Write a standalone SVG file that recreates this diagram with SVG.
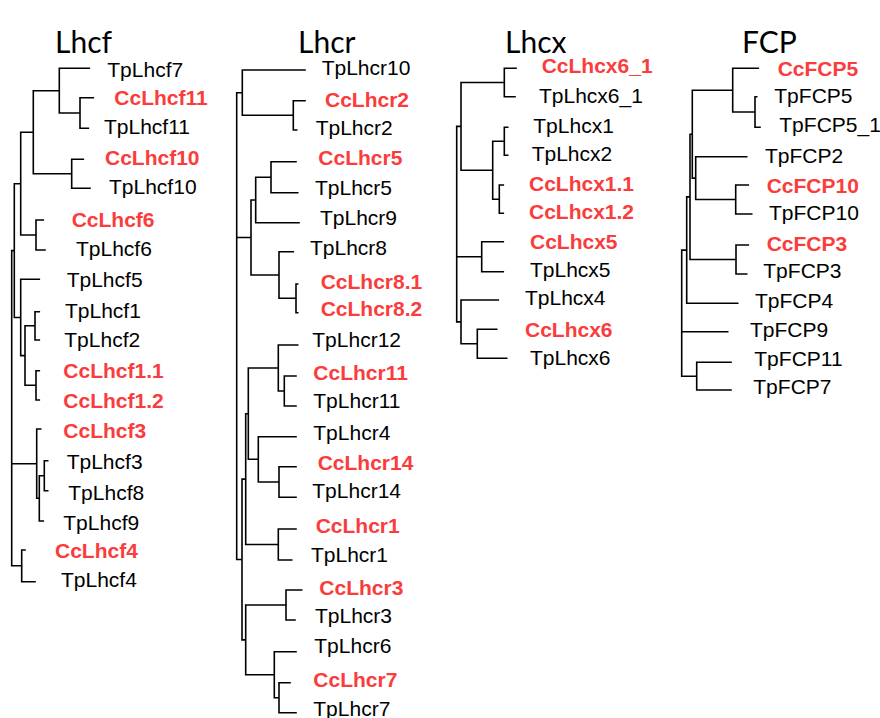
<svg xmlns="http://www.w3.org/2000/svg" width="880" height="718" viewBox="0 0 880 718">
<style>
  .br { fill: none; stroke: #000; stroke-width: 1.6; stroke-linecap: square; }
  .tp { font-family: "Liberation Sans", Arial, sans-serif; font-size: 21px; fill: #000; }
  .cc { font-family: "Liberation Sans", Arial, sans-serif; font-size: 21px; font-weight: bold; fill: #FA3C3C; }
  .ttl { font-family: Lato, "Open Sans", sans-serif; font-size: 30px; fill: #000; }
</style>
<rect width="880" height="718" fill="#fff"/>

<!-- family headings -->
<g id="titles">
  <text class="ttl" x="55" y="53">Lhcf</text>
  <text class="ttl" x="298" y="53">Lhcr</text>
  <text class="ttl" x="505" y="53">Lhcx</text>
  <text class="ttl" x="742" y="53">FCP</text>
</g>

<!-- branches of the four trees -->
<g id="connectors">
  <!-- Lhcf -->
  <path class="br" d="M59.3 68.3 H89.3 M80 97.7 H93.3 M80 128.3 H88.3 M80 97.7 V128.3
    M59.3 113 H80 M59.3 68.3 V113
    M71.7 159.3 H83.3 M71.7 188.3 H90 M71.7 159.3 V188.3
    M33.3 90.7 H59.3 M33.3 173.8 H71.7 M33.3 90.7 V173.8
    M36 220 H43.3 M36 250 H45 M36 220 V250
    M20.7 132.3 H33.3 M20.7 235 H36 M20.7 132.3 V235
    M20.7 279.3 H39.3
    M35 311.7 H39.3 M35 340 H39.3 M35 311.7 V340
    M36 370.7 H39.3 M36 400 H39.3 M36 370.7 V400
    M25 325.8 H35 M25 385.3 H36 M25 325.8 V385.3
    M20.7 355.6 H25 M20.7 279.3 V355.6
    M14.3 183.7 H20.7 M14.3 317.5 H20.7 M14.3 183.7 V317.5
    M36.7 429 H40.7
    M44.3 460.7 H47.7 M44.3 490.7 H47.7 M44.3 460.7 V490.7
    M39.3 475.7 H44.3 M39.3 521 H43.3 M39.3 475.7 V521
    M36.7 498.3 H39.3 M36.7 429 V498.3
    M21.7 550 H25 M21.7 581.7 H35 M21.7 550 V581.7
    M11.7 250.6 H14.3 M11.7 463.7 H36.7 M11.7 565.8 H21.7 M11.7 250.6 V565.8"/>
  <!-- Lhcr -->
  <path class="br" d="M242.3 70 H305 M293.3 100.7 H305 M293.3 130 H296.7 M293.3 100.7 V130
    M242.3 115.3 H293.3 M242.3 70 V115.3
    M271 161.7 H296 M271 192.7 H297.7 M271 161.7 V192.7
    M255.7 177.2 H271 M255.7 222.7 H299 M255.7 177.2 V222.7
    M279 251.7 H293.3 M296 284 H297.7 M296 312.7 H297.7 M296 284 V312.7
    M279 298.3 H296 M279 251.7 V298.3
    M251 200 H255.7 M251 275 H279 M251 200 V275
    M278.3 345 H297.7 M284.3 376 H296 M284.3 406 H296 M284.3 376 V406
    M278.3 391 H284.3 M278.3 345 V391
    M258.3 436.7 H296 M279 466.7 H296 M279 497.3 H296 M279 466.7 V497.3
    M258.3 482 H279 M258.3 436.7 V482
    M248.3 368 H278.3 M248.3 459.3 H258.3 M248.3 368 V459.3
    M278.3 529 H296 M278.3 560 H291.7 M278.3 529 V560
    M245.7 413.7 H248.3 M245.7 544.5 H278.3 M245.7 413.7 V544.5
    M286 590 H301.7 M286 620 H295 M286 590 V620
    M274.3 651.7 H296 M279 682.7 H290 M279 712.7 H296 M279 682.7 V712.7
    M274.3 697.7 H279 M274.3 651.7 V697.7
    M245.7 605 H286 M245.7 674.7 H274.3 M245.7 605 V674.7
    M242 479.1 H245.7 M242 639.9 H245.7 M242 479.1 V639.9
    M236.7 92.7 H242.3 M236.7 237.5 H251 M236.7 559.5 H242 M236.7 92.7 V559.5"/>
  <!-- Lhcx -->
  <path class="br" d="M504.3 68.3 H516 M504.3 96.7 H515 M504.3 68.3 V96.7
    M504.3 127.3 H507.7 M504.3 155.3 H507.7 M504.3 127.3 V155.3
    M499.3 185 H503.3 M499.3 213.3 H503.3 M499.3 185 V213.3
    M492.7 141.3 H504.3 M492.7 199.2 H499.3 M492.7 141.3 V199.2
    M461 82.5 H504.3 M461 170.2 H492.7 M461 82.5 V170.2
    M481.7 241.7 H503.3 M481.7 271.7 H503.3 M481.7 241.7 V271.7
    M461 300 H498.3 M477.3 329.3 H496.7 M477.3 358.3 H506.7 M477.3 329.3 V358.3
    M461 343.8 H477.3 M461 300 V343.8
    M456.7 126.4 H461 M456.7 256.7 H481.7 M456.7 321.9 H461 M456.7 126.4 V321.9"/>
  <!-- FCP -->
  <path class="br" d="M732.7 68.3 H758.3 M755 96.7 H756.7 M755 127.3 H760 M755 96.7 V127.3
    M732.7 112 H755 M732.7 68.3 V112
    M695.7 156.7 H746.7 M735.7 185 H748.3 M735.7 214 H751.7 M735.7 185 V214
    M695.7 199.5 H735.7 M695.7 156.7 V199.5
    M692.3 90.2 H732.7 M692.3 178.1 H695.7 M692.3 90.2 V178.1
    M736 245 H748.3 M736 274 H746.7 M736 245 V274
    M690 134.2 H692.3 M690 259.5 H736 M690 134.2 V259.5
    M686.7 196.9 H690 M686.7 303.3 H737.7 M686.7 196.9 V303.3
    M681.7 331.7 H727.7
    M696.7 362.3 H731 M696.7 390 H731 M696.7 362.3 V390
    M681.7 250.1 H686.7 M681.7 376.2 H696.7 M681.7 250.1 V376.2"/>
</g>

<!-- Lhcf leaves -->
<g id="TpLhcf7"><text class="tp" x="107.3" y="76.7">TpLhcf7</text></g>
<g id="CcLhcf11"><text class="cc" x="114.3" y="105">CcLhcf11</text></g>
<g id="TpLhcf11"><text class="tp" x="104" y="134">TpLhcf11</text></g>
<g id="CcLhcf10"><text class="cc" x="105" y="165">CcLhcf10</text></g>
<g id="TpLhcf10"><text class="tp" x="109" y="194">TpLhcf10</text></g>
<g id="CcLhcf6"><text class="cc" x="71.7" y="226.7">CcLhcf6</text></g>
<g id="TpLhcf6"><text class="tp" x="76" y="255.7">TpLhcf6</text></g>
<g id="TpLhcf5"><text class="tp" x="66.7" y="287">TpLhcf5</text></g>
<g id="TpLhcf1"><text class="tp" x="65" y="317.5">TpLhcf1</text></g>
<g id="TpLhcf2"><text class="tp" x="64.3" y="346.7">TpLhcf2</text></g>
<g id="CcLhcf1.1"><text class="cc" x="63.3" y="377.7">CcLhcf1.1</text></g>
<g id="CcLhcf1.2"><text class="cc" x="63.3" y="408">CcLhcf1.2</text></g>
<g id="CcLhcf3"><text class="cc" x="63.3" y="438.3">CcLhcf3</text></g>
<g id="TpLhcf3"><text class="tp" x="66.7" y="469.3">TpLhcf3</text></g>
<g id="TpLhcf8"><text class="tp" x="68.3" y="500">TpLhcf8</text></g>
<g id="TpLhcf9"><text class="tp" x="63.3" y="530">TpLhcf9</text></g>
<g id="CcLhcf4"><text class="cc" x="55" y="558.3">CcLhcf4</text></g>
<g id="TpLhcf4"><text class="tp" x="61" y="586.7">TpLhcf4</text></g>

<!-- Lhcr leaves -->
<g id="TpLhcr10"><text class="tp" x="321.7" y="75">TpLhcr10</text></g>
<g id="CcLhcr2"><text class="cc" x="325" y="106.7">CcLhcr2</text></g>
<g id="TpLhcr2"><text class="tp" x="315.7" y="135">TpLhcr2</text></g>
<g id="CcLhcr5"><text class="cc" x="318.3" y="165">CcLhcr5</text></g>
<g id="TpLhcr5"><text class="tp" x="315" y="195">TpLhcr5</text></g>
<g id="TpLhcr9"><text class="tp" x="320" y="225">TpLhcr9</text></g>
<g id="TpLhcr8"><text class="tp" x="310" y="255">TpLhcr8</text></g>
<g id="CcLhcr8.1"><text class="cc" x="320.7" y="289">CcLhcr8.1</text></g>
<g id="CcLhcr8.2"><text class="cc" x="320.7" y="316">CcLhcr8.2</text></g>
<g id="TpLhcr12"><text class="tp" x="312.3" y="347.3">TpLhcr12</text></g>
<g id="CcLhcr11"><text class="cc" x="313.3" y="380">CcLhcr11</text></g>
<g id="TpLhcr11"><text class="tp" x="313.3" y="408.3">TpLhcr11</text></g>
<g id="TpLhcr4"><text class="tp" x="313.3" y="440">TpLhcr4</text></g>
<g id="CcLhcr14"><text class="cc" x="317.7" y="470">CcLhcr14</text></g>
<g id="TpLhcr14"><text class="tp" x="312.3" y="498">TpLhcr14</text></g>
<g id="CcLhcr1"><text class="cc" x="315.7" y="533.3">CcLhcr1</text></g>
<g id="TpLhcr1"><text class="tp" x="311" y="561.7">TpLhcr1</text></g>
<g id="CcLhcr3"><text class="cc" x="319.3" y="595">CcLhcr3</text></g>
<g id="TpLhcr3"><text class="tp" x="315" y="623.3">TpLhcr3</text></g>
<g id="TpLhcr6"><text class="tp" x="314.3" y="653.3">TpLhcr6</text></g>
<g id="CcLhcr7"><text class="cc" x="313.3" y="686.7">CcLhcr7</text></g>
<g id="TpLhcr7"><text class="tp" x="313.3" y="716">TpLhcr7</text></g>

<!-- Lhcx leaves -->
<g id="CcLhcx6_1"><text class="cc" x="541.7" y="73">CcLhcx6_1</text></g>
<g id="TpLhcx6_1"><text class="tp" x="539" y="103">TpLhcx6_1</text></g>
<g id="TpLhcx1"><text class="tp" x="533.3" y="132.7">TpLhcx1</text></g>
<g id="TpLhcx2"><text class="tp" x="531.7" y="161">TpLhcx2</text></g>
<g id="CcLhcx1.1"><text class="cc" x="529" y="191">CcLhcx1.1</text></g>
<g id="CcLhcx1.2"><text class="cc" x="529" y="219.3">CcLhcx1.2</text></g>
<g id="CcLhcx5"><text class="cc" x="530" y="249">CcLhcx5</text></g>
<g id="TpLhcx5"><text class="tp" x="530" y="276.7">TpLhcx5</text></g>
<g id="TpLhcx4"><text class="tp" x="525" y="305">TpLhcx4</text></g>
<g id="CcLhcx6"><text class="cc" x="525" y="337.3">CcLhcx6</text></g>
<g id="TpLhcx6"><text class="tp" x="530" y="365">TpLhcx6</text></g>

<!-- FCP leaves -->
<g id="CcFCP5"><text class="cc" x="777.7" y="76">CcFCP5</text></g>
<g id="TpFCP5"><text class="tp" x="774.3" y="102.7">TpFCP5</text></g>
<g id="TpFCP5_1"><text class="tp" x="779.3" y="131.7">TpFCP5_1</text></g>
<g id="TpFCP2"><text class="tp" x="765" y="163.3">TpFCP2</text></g>
<g id="CcFCP10"><text class="cc" x="766.7" y="192.7">CcFCP10</text></g>
<g id="TpFCP10"><text class="tp" x="769" y="220">TpFCP10</text></g>
<g id="CcFCP3"><text class="cc" x="766.7" y="251">CcFCP3</text></g>
<g id="TpFCP3"><text class="tp" x="763.3" y="277.7">TpFCP3</text></g>
<g id="TpFCP4"><text class="tp" x="755" y="308.3">TpFCP4</text></g>
<g id="TpFCP9"><text class="tp" x="750" y="336.7">TpFCP9</text></g>
<g id="TpFCP11"><text class="tp" x="754.3" y="366">TpFCP11</text></g>
<g id="TpFCP7"><text class="tp" x="753.3" y="394">TpFCP7</text></g>
</svg>
